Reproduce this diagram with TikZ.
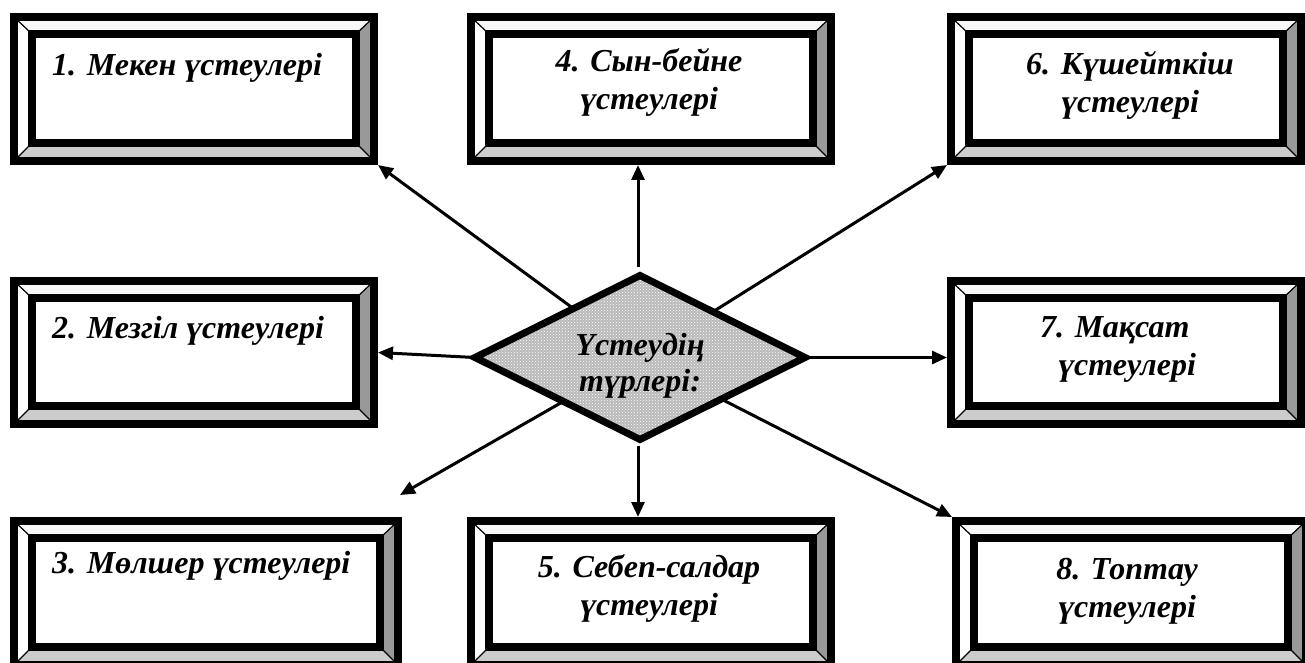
\documentclass[tikz,border=0pt]{standalone}
\usepackage{fontspec}
\setmainfont{Liberation Serif}
\usetikzlibrary{shapes.geometric, arrows.meta, patterns}

\definecolor{bevtop}{gray}{0.97}
\definecolor{bevright}{gray}{0.60}
\definecolor{bevbottom}{gray}{0.80}

\tikzset{
    bevelbox/.style={draw, line width=8pt, fill=white, inner sep=0pt,
        path picture={
            \path (path picture bounding box.north west) coordinate (pnw)
                  (path picture bounding box.north east) coordinate (pne)
                  (path picture bounding box.south east) coordinate (pse)
                  (path picture bounding box.south west) coordinate (psw);
            \path ([shift={(18pt,-17pt)}]pnw) coordinate (qnw)
                  ([shift={(-18pt,-17pt)}]pne) coordinate (qne)
                  ([shift={(-18pt,18pt)}]pse) coordinate (qse)
                  ([shift={(18pt,18pt)}]psw) coordinate (qsw);
            \fill[bevtop] (pnw) -- (pne) -- (qne) -- (qnw) -- cycle;
            \fill[white] (pnw) -- (qnw) -- (qsw) -- (psw) -- cycle;
            \fill[bevright] (pne) -- (pse) -- (qse) -- (qne) -- cycle;
            \fill[bevbottom] (psw) -- (qsw) -- (qse) -- (pse) -- cycle;
            \draw[line width=1.2pt] (pnw) -- (qnw) (pne) -- (qne) (pse) -- (qse) (psw) -- (qsw);
            \draw[line width=8.5pt] (qnw) rectangle (qse);
        }},
    lbl/.style={inner sep=0pt, font=\bfseries\itshape\fontsize{32}{38}\selectfont},
    arr/.style={line width=3pt, -{Triangle[length=15pt, width=13pt]}}
}

\begin{document}
\begin{tikzpicture}[x=1pt, y=-1pt]
    \useasboundingbox (0,0) rectangle (1305,663);

    % Boxes
    \node[bevelbox, minimum width=360pt, minimum height=144pt] (b1) at (194,89) {};
    \node[bevelbox, minimum width=360pt, minimum height=143pt] (b2) at (194,352.5) {};
    \node[bevelbox, minimum width=384pt, minimum height=144pt] (b3) at (206,593) {};
    \node[bevelbox, minimum width=360pt, minimum height=144pt] (b4) at (651,89) {};
    \node[bevelbox, minimum width=360pt, minimum height=144pt] (b5) at (651,593) {};
    \node[bevelbox, minimum width=350pt, minimum height=144pt] (b6) at (1126,89) {};
    \node[bevelbox, minimum width=350pt, minimum height=143pt] (b7) at (1126,352.5) {};
    \node[bevelbox, minimum width=350pt, minimum height=144pt] (b8) at (1131,593) {};

    % Texts
    \node[lbl, anchor=base west] (t1) at (52,76) {1. Мекен үстеулері};
    \node[lbl, anchor=base west] (t2) at (52,338) {2. Мезгіл үстеулері};
    \node[lbl, anchor=base west] (t3) at (52,573) {3. Мөлшер үстеулері};
    \node[lbl, anchor=base, align=center] (t4) at (649,110) {4. Сын-бейне\\үстеулері};
    \node[lbl, anchor=base, align=center] (t5) at (649,615) {5. Себеп-салдар\\үстеулері};
    \node[lbl, anchor=base, align=center] (t6) at (1130,113) {6. Күшейткіш\\үстеулері};
    \node[lbl, anchor=base west, align=left] (t7) at (1040,375) {7. Мақсат\\\hspace*{18pt}үстеулері};
    \node[lbl, anchor=base, align=center] (t8) at (1127,617) {8. Топтау\\үстеулері};

    % Centre
    \node[diamond, draw, line width=7pt, inner sep=0pt, outer sep=0pt, aspect=2,
          minimum width=330pt, minimum height=164pt,
          preaction={fill=gray!55}, pattern=crosshatch dots, pattern color=white,
          font=\bfseries\itshape\fontsize{32}{36}\selectfont, align=center]
          (dia) at (640,357.5) {\rule{0pt}{38pt}Үстеудің\\түрлері:};

    \coordinate (e3) at (400,495);

    % Arrows
    \draw[arr] (dia) -- (b1.south east);
    \draw[arr] (dia.west) -- (b2.east);
    \draw[arr] (dia) -- (e3);
    \draw[arr, shorten <=9pt] ([xshift=-2pt]dia.north) -- ([xshift=-2pt]dia.north |- b4.south);
    \draw[arr, shorten <=6pt] ([xshift=-2pt]dia.south) -- ([xshift=-2pt]dia.south |- b5.north);
    \draw[arr] (dia) -- (b6.south west);
    \draw[arr] (dia.east) -- (dia.east -| b7.west);
    \draw[arr] (dia) -- (b8.north west);

\end{tikzpicture}
\end{document}
